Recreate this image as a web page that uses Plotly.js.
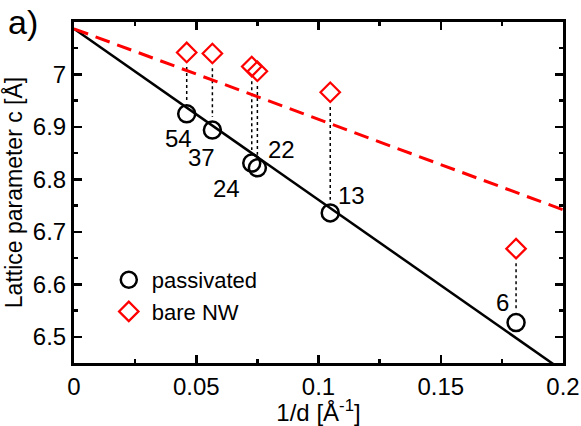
<!DOCTYPE html>
<html><head><meta charset="utf-8">
<script src="https://cdn.plot.ly/plotly-3.0.1.min.js"></script>
<style>body{margin:0;padding:0;background:#fff}#chart{width:581px;height:426px}</style>
</head><body><div id="chart"></div>
<script>
// data
const sizeLabels = ["54", "37", "24", "22", "13", "6"];
const invD = [0.0461, 0.0566, 0.0727, 0.0750, 0.1048, 0.1808];
const cPassivated = [6.925, 6.894, 6.831, 6.822, 6.736, 6.527];
const cBare = [7.042, 7.040, 7.015, 7.006, 6.966, 6.668];
const fitX = [0, 0.2];
const fitPassivated = [7.087, 6.435];
const fitBare = [7.087, 6.742];
const xTickVals = [0, 0.05, 0.1, 0.15, 0.2];
const xTickText = ['0', '0.05', '0.1', '0.15', '0.2'];
const yTickVals = [6.5, 6.6, 6.7, 6.8, 6.9, 7.0];
const yTickText = ['6.5', '6.6', '6.7', '6.8', '6.9', '7'];
// label pixel offsets (style)
const labelShiftX = [-8, -11, -25, 24, 21, -14];
const labelShiftY = [-25, -27, -25, 18, 17, 20];

const font = "Liberation Sans, Arial, Helvetica, sans-serif";
const traces = [];
// dotted connectors
for (let i = 0; i < invD.length; i++) {
  traces.push({x: [invD[i], invD[i]], y: [cBare[i] - 0.028, cPassivated[i] + 0.025],
    mode: 'lines', line: {color: 'black', width: 1.5, dash: 'dot'},
    showlegend: false, hoverinfo: 'skip'});
}
traces.push({x: fitX, y: fitPassivated, mode: 'lines', line: {color: 'black', width: 2.5}, showlegend: false});
traces.push({x: fitX, y: fitBare, mode: 'lines', line: {color: '#ff0000', width: 3, dash: '15px,8px'}, showlegend: false});
traces.push({x: invD, y: cPassivated, mode: 'markers', name: 'passivated',
  marker: {symbol: 'circle-open', size: 17, color: 'black', line: {width: 2.5, color: 'black'}}});
traces.push({x: invD, y: cBare, mode: 'markers', name: 'bare NW',
  marker: {symbol: 'diamond-open', size: 15, color: '#ff0000', line: {width: 2.2, color: '#ff0000'}}});

const annotations = sizeLabels.map((t, i) => ({
  x: invD[i], y: cPassivated[i], xref: 'x', yref: 'y', text: t, showarrow: false,
  xshift: labelShiftX[i], yshift: labelShiftY[i], font: {family: font, size: 24, color: 'black'}
}));
annotations.push({x: -0.104, y: 1.0, xref: 'paper', yref: 'paper', xanchor: 'center', yanchor: 'middle',
  text: 'a)', showarrow: false, font: {family: font, size: 34, color: 'black'}});

const axisCommon = {
  showline: true, linewidth: 3, linecolor: 'black', mirror: 'allticks',
  ticks: 'inside', ticklen: 8, tickwidth: 2.5, tickcolor: 'black',
  showgrid: false, zeroline: false,
  tickfont: {family: font, size: 24, color: 'black'},
};
const layout = {
  width: 581, height: 426,
  margin: {l: 74, r: 18, t: 22, b: 63},
  paper_bgcolor: 'white', plot_bgcolor: 'white',
  font: {family: font, color: 'black'},
  xaxis: Object.assign({}, axisCommon, {
    range: [0, 0.2], tickvals: xTickVals, ticktext: xTickText,
    minor: {dtick: 0.025, ticks: 'inside', ticklen: 4, tickwidth: 2.5, tickcolor: 'black', showgrid: false},
    title: {text: '1/d [Å<sup>-1</sup>]', font: {family: font, size: 24, color: 'black'}, standoff: 6}
  }),
  yaxis: Object.assign({}, axisCommon, {
    range: [6.45, 7.1], tickvals: yTickVals, ticktext: yTickText,
    minor: {dtick: 0.05, ticks: 'inside', ticklen: 4, tickwidth: 2.5, tickcolor: 'black', showgrid: false},
    title: {text: 'Lattice parameter c [Å]', font: {family: font, size: 23, color: 'black'}, standoff: 5}
  }),
  legend: {x: 0.065, y: 0.305, xanchor: 'left', yanchor: 'top', bgcolor: 'rgba(0,0,0,0)',
    font: {family: font, size: 22, color: 'black'}, tracegroupgap: 0, itemwidth: 36},
  annotations: annotations,
  showlegend: true
};
Plotly.newPlot('chart', traces, layout, {staticPlot: true, displayModeBar: false});
</script></body></html>
